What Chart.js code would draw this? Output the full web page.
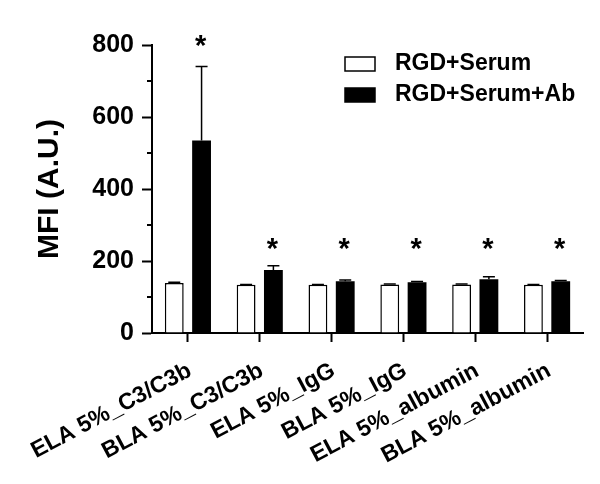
<!DOCTYPE html>
<html>
<head>
<meta charset="utf-8">
<script src="https://cdn.jsdelivr.net/npm/chart.js@4"></script>
<style>
  body { margin: 0; background: #fff; }
</style>
</head>
<body>
<canvas id="myChart" width="600" height="484"></canvas>
<script>
var categories = ["ELA 5%_C3/C3b", "BLA 5%_C3/C3b", "ELA 5%_IgG", "BLA 5%_IgG", "ELA 5%_albumin", "BLA 5%_albumin"];
var serumValues = [139, 134, 134, 135, 135, 134];
var serumErrors = [2, 1, 1, 1, 1, 1];
var abValues = [535, 175, 144, 141, 149, 144];
var abErrors = [205, 12, 3, 2, 7, 2];
var starLevels = [810, 248, 248, 248, 248, 248];
var minorTicks = [100, 300, 500, 700];
var errorList = [serumErrors, abErrors];

var FONT = "'Liberation Sans', Arial, sans-serif";

// error bars (upper whisker only), minor ticks, asterisks and legend
var extras = {
  id: 'extras',
  afterDatasetsDraw: function (chart) {
    var ctx = chart.ctx;
    var y = chart.scales.y;
    ctx.save();
    ctx.strokeStyle = '#000';
    ctx.lineWidth = 1.5;
    chart.data.datasets.forEach(function (ds, i) {
      var meta = chart.getDatasetMeta(i);
      meta.data.forEach(function (bar, j) {
        var top = y.getPixelForValue(ds.data[j] + errorList[i][j]);
        ctx.beginPath();
        ctx.moveTo(bar.x, bar.y);
        ctx.lineTo(bar.x, top);
        ctx.moveTo(bar.x - 6, top);
        ctx.lineTo(bar.x + 6, top);
        ctx.stroke();
      });
    });
    ctx.restore();
  },
  afterDraw: function (chart) {
    var ctx = chart.ctx;
    var y = chart.scales.y;
    var left = chart.chartArea.left;
    ctx.save();
    ctx.strokeStyle = '#000';
    ctx.lineWidth = 2;
    minorTicks.forEach(function (v) {
      var py = Math.round(y.getPixelForValue(v));
      ctx.beginPath();
      ctx.moveTo(left - 5, py);
      ctx.lineTo(left, py);
      ctx.stroke();
    });

    // asterisks over the antibody bars
    ctx.fillStyle = '#000';
    ctx.font = 'bold 29px ' + FONT;
    ctx.textAlign = 'center';
    ctx.textBaseline = 'alphabetic';
    var abMeta = chart.getDatasetMeta(1);
    abMeta.data.forEach(function (bar, j) {
      ctx.fillText('*', bar.x - 1, y.getPixelForValue(starLevels[j]) + 14);
    });

    // legend
    ctx.font = 'bold 23px ' + FONT;
    ctx.textAlign = 'left';
    ctx.textBaseline = 'middle';
    chart.data.datasets.forEach(function (ds, i) {
      var cy = 64 + i * 31;
      ctx.fillStyle = ds.backgroundColor;
      ctx.fillRect(345, cy - 7, 30, 14);
      ctx.lineWidth = 1.5;
      ctx.strokeRect(345, cy - 7, 30, 14);
      ctx.fillStyle = '#000';
      ctx.fillText(ds.label, 395, cy);
    });
    ctx.restore();
  }
};

var ctx = document.getElementById('myChart').getContext('2d');
var myChart = new Chart(ctx, {
  type: 'bar',
  data: {
    labels: categories,
    datasets: [
      { label: 'RGD+Serum', data: serumValues, backgroundColor: '#fff', borderColor: '#000', borderWidth: 1.5 },
      { label: 'RGD+Serum+Ab', data: abValues, backgroundColor: '#000', borderColor: '#000', borderWidth: 0 }
    ]
  },
  options: {
    responsive: false,
    animation: false,
    devicePixelRatio: 1,
    categoryPercentage: 0.76,
    barPercentage: 0.69,
    layout: { padding: { top: 45, right: 17, left: 0, bottom: 0 } },
    plugins: {
      legend: { display: false },
      tooltip: { enabled: false }
    },
    scales: {
      x: {
        afterFit: function (scale) {
          scale.height = 151;
          scale.paddingLeft = 0;
          scale.paddingRight = 0;
        },
        border: { color: '#000', width: 2 },
        grid: { display: true, drawOnChartArea: false, offset: false, tickLength: 9, tickWidth: 2, tickColor: '#000' },
        ticks: {
          autoSkip: false,
          maxRotation: 28,
          minRotation: 28,
          padding: 15,
          labelOffset: 2,
          color: '#000',
          font: { family: FONT, size: 23, weight: 'bold' }
        }
      },
      y: {
        min: 0,
        max: 800,
        afterFit: function (scale) { scale.width = 152; },
        border: { color: '#000', width: 2 },
        grid: { display: true, drawOnChartArea: false, tickLength: 10, tickWidth: 2, tickColor: '#000' },
        ticks: {
          stepSize: 200,
          padding: 8,
          color: '#000',
          font: { family: FONT, size: 25, weight: 'bold' }
        },
        title: {
          display: true,
          text: 'MFI (A.U.)',
          color: '#000',
          padding: { top: 32, bottom: 0 },
          font: { family: FONT, size: 30, weight: 'bold' }
        }
      }
    }
  },
  plugins: [extras]
});
</script>
</body>
</html>
